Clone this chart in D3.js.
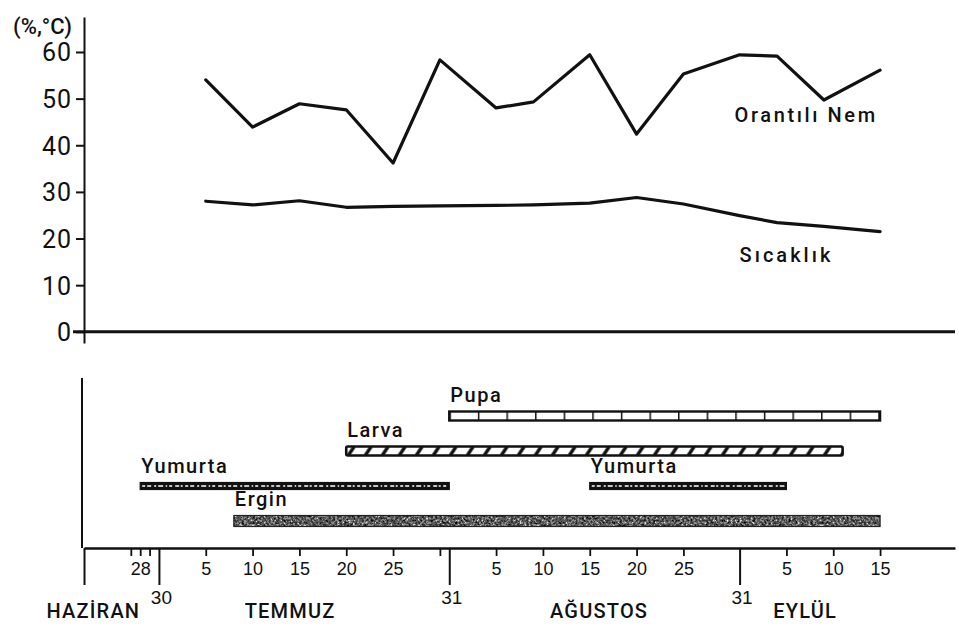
<!DOCTYPE html>
<html>
<head>
<meta charset="utf-8">
<script src="https://cdn.jsdelivr.net/npm/d3@7"></script>
<style>
  html, body { margin: 0; padding: 0; background: #fff; }
  svg { display: block; font-family: Roboto, "DejaVu Sans", sans-serif; }
</style>
</head>
<body>
<svg id="chart" width="959" height="629"></svg>
<script>
// ---------- DATA ----------
const obsDates   = ["07-05","07-10","07-15","07-20","07-25","07-30","08-05","08-09","08-15","08-20","08-25","08-31","09-04","09-09","09-15"];
const humidity   = [54.0, 43.9, 48.9, 47.6, 36.2, 58.3, 48.0, 49.3, 59.4, 42.4, 55.3, 59.4, 59.1, 49.7, 56.1];
const temperature= [28.0, 27.2, 28.1, 26.7, 26.9, 27.0, 27.1, 27.2, 27.6, 28.8, 27.4, 24.9, 23.4, 22.6, 21.5];
const seriesNames = ["Orantılı Nem", "Sıcaklık"];
const yTicks = [0, 10, 20, 30, 40, 50, 60];
const yTitle = "(%,°C)";

const stageRows   = ["Pupa", "Larva", "Yumurta", "Ergin"];
const barStages   = ["Pupa", "Larva", "Yumurta", "Yumurta", "Ergin"];
const barStarts   = ["07-31", "07-20", "06-28", "08-15", "07-08"];
const barEnds     = ["09-15", "09-11", "07-31", "09-05", "09-15"];

const dayTicks      = ["06-27","06-28","06-29","07-05","07-10","07-15","07-20","07-25","07-30","08-05","08-10","08-15","08-20","08-25","09-05","09-10","09-15"];
const dayTickLabels = ["","28","","5","10","15","20","25","","5","10","15","20","25","5","10","15"];
const monthEnds      = ["06-22","06-30","07-31","08-31"];
const monthEndLabels = ["","30","31","31"];
const monthNames     = ["HAZİRAN","TEMMUZ","AĞUSTOS","EYLÜL"];
const monthNameDates = ["06-23","07-14","08-16","09-07"];

// ---------- SETUP ----------
const D = s => new Date(Date.UTC(1985, +s.slice(0, 2) - 1, +s.slice(3)));
const svg = d3.select("#chart");
const ink = "#111";

const x = d3.scaleUtc().domain([D("06-22"), D("09-23")]).range([84, 955]);
const y = d3.scaleLinear().domain([-2.4, 67.5]).range([343, 17]);

// ---------- TOP PANEL ----------
const yAxis = svg.append("g")
  .attr("transform", `translate(${x.range()[0]},0)`)
  .call(d3.axisLeft(y).tickValues(yTicks).tickSize(8).tickSizeOuter(0).tickPadding(4));
yAxis.select(".domain").attr("stroke", ink).attr("stroke-width", 2);
yAxis.selectAll(".tick line").attr("stroke", ink).attr("stroke-width", 2);
yAxis.selectAll(".tick text")
  .attr("fill", ink).attr("font-size", 25).attr("letter-spacing", 1)
  .attr("font-family", "Roboto, sans-serif")
  .attr("dy", "0.36em");

svg.append("text")
  .attr("x", 72).attr("y", 34)
  .attr("text-anchor", "end")
  .attr("font-size", 22).attr("font-weight", 500).attr("fill", ink)
  .text(yTitle);

// zero line
svg.append("line")
  .attr("x1", x.range()[0] - 11).attr("x2", x.range()[1])
  .attr("y1", y(0)).attr("y2", y(0))
  .attr("stroke", ink).attr("stroke-width", 3);

const line = d3.line().x(d => x(D(d.date))).y(d => y(d.v));
const hum = obsDates.map((d, i) => ({date: d, v: humidity[i]}));
const tmp = obsDates.map((d, i) => ({date: d, v: temperature[i]}));

[hum, tmp].forEach(s => {
  svg.append("path").datum(s)
    .attr("d", line)
    .attr("fill", "none").attr("stroke", ink)
    .attr("stroke-width", 3.2).attr("stroke-linejoin", "round").attr("stroke-linecap", "round");
});

svg.append("text")
  .attr("x", x(D("08-31")) - 5).attr("y", y(45))
  .attr("font-size", 20).attr("font-weight", 500).attr("letter-spacing", 2.6).attr("fill", ink)
  .text(seriesNames[0]);
svg.append("text")
  .attr("x", x(D("08-31"))).attr("y", y(15))
  .attr("font-size", 20).attr("font-weight", 500).attr("letter-spacing", 3).attr("fill", ink)
  .text(seriesNames[1]);

// ---------- BOTTOM PANEL ----------
const axisY = 548;
const row = d3.scalePoint().domain(stageRows).range([416, 521]);
const barH = {Pupa: 9, Larva: 9, Yumurta: 7, Ergin: 11};

// left vertical line of the lower panel
svg.append("line")
  .attr("x1", x.range()[0] - 2).attr("x2", x.range()[0] - 2)
  .attr("y1", 378).attr("y2", axisY)
  .attr("stroke", ink).attr("stroke-width", 2);

const defs = svg.append("defs");
const f = defs.append("filter").attr("id", "speckle")
  .attr("x", 0).attr("y", 0).attr("width", 1).attr("height", 1)
  .attr("color-interpolation-filters", "sRGB");
f.append("feTurbulence").attr("type", "fractalNoise").attr("baseFrequency", 0.45)
  .attr("numOctaves", 2).attr("seed", 7).attr("result", "n");
f.append("feColorMatrix").attr("in", "n").attr("type", "matrix")
  .attr("values", "1 0 0 0 0  1 0 0 0 0  1 0 0 0 0  0 0 0 0 1").attr("result", "g");
const ct = f.append("feComponentTransfer").attr("in", "g").attr("result", "c");
["feFuncR", "feFuncG", "feFuncB"].forEach(fn =>
  ct.append(fn).attr("type", "discrete").attr("tableValues", "0 0.05 0.2 0.35 0.55 0.85 1"));
f.append("feComposite").attr("in", "c").attr("in2", "SourceGraphic").attr("operator", "in");

const bars = barStages.map((s, i) => ({stage: s, start: D(barStarts[i]), end: D(barEnds[i])}));

bars.forEach((b, i) => {
  const h = barH[b.stage];
  const x0 = x(b.start), x1 = x(b.end), y0 = row(b.stage) - h / 2;
  const g = svg.append("g");
  if (b.stage === "Pupa") {
    const pid = "pupa" + i;
    const p = defs.append("pattern").attr("id", pid).attr("patternUnits", "userSpaceOnUse")
      .attr("x", x0).attr("y", y0).attr("width", 28.6).attr("height", h);
    p.append("rect").attr("width", 28.6).attr("height", h).attr("fill", "#fff");
    p.append("line").attr("x1", 0.5).attr("x2", 0.5).attr("y1", 0).attr("y2", h)
      .attr("stroke", ink).attr("stroke-width", 2);
    g.append("rect").attr("x", x0).attr("y", y0).attr("width", x1 - x0).attr("height", h)
      .attr("fill", `url(#${pid})`).attr("stroke", ink).attr("stroke-width", 2.4);
  } else if (b.stage === "Larva") {
    const pid = "larva" + i;
    const p = defs.append("pattern").attr("id", pid).attr("patternUnits", "userSpaceOnUse")
      .attr("x", x0).attr("y", y0).attr("width", 17).attr("height", h);
    p.append("rect").attr("width", 17).attr("height", h).attr("fill", "#fff");
    p.append("line").attr("x1", 2).attr("y1", h).attr("x2", 8).attr("y2", 0)
      .attr("stroke", ink).attr("stroke-width", 3.4);
    g.append("rect").attr("x", x0).attr("y", y0).attr("width", x1 - x0).attr("height", h)
      .attr("fill", `url(#${pid})`).attr("stroke", ink).attr("stroke-width", 2.6).attr("rx", 1.5);
  } else if (b.stage === "Yumurta") {
    g.append("rect").attr("x", x0).attr("y", y0).attr("width", x1 - x0).attr("height", h)
      .attr("fill", ink).attr("stroke", ink).attr("stroke-width", 1.2);
    g.append("line").attr("x1", x0 + 2).attr("x2", x1 - 2)
      .attr("y1", y0 + h / 2).attr("y2", y0 + h / 2)
      .attr("stroke", "#fff").attr("stroke-width", 1.6)
      .attr("stroke-dasharray", "3 2 4 3 2 2 5 2.5 1.5 2 3 3 4 1.5 2 2.5");
  } else {
    g.append("rect").attr("x", x0).attr("y", y0).attr("width", x1 - x0).attr("height", h)
      .attr("fill", "#555");
    g.append("rect").attr("x", x0).attr("y", y0).attr("width", x1 - x0).attr("height", h)
      .attr("fill", "#000").attr("filter", "url(#speckle)");
    g.append("rect").attr("x", x0).attr("y", y0).attr("width", x1 - x0).attr("height", h)
      .attr("fill", "none").attr("stroke", "#222").attr("stroke-width", 1.2);
  }
  svg.append("text")
    .attr("x", x0 + 1).attr("y", y0 - 10)
    .attr("font-size", 20).attr("font-weight", 500).attr("letter-spacing", 1.5).attr("fill", ink)
    .text(b.stage);
});

// bottom axis – day ticks
const dayAxis = svg.append("g").attr("transform", `translate(0,${axisY})`)
  .call(d3.axisBottom(x).tickValues(dayTicks.map(D)).tickSize(8).tickSizeOuter(0).tickPadding(6)
    .tickFormat((d, i) => dayTickLabels[i]));
dayAxis.select(".domain").attr("stroke", ink).attr("stroke-width", 2.6);
dayAxis.selectAll(".tick line").attr("stroke", ink).attr("stroke-width", 1.8);
dayAxis.selectAll(".tick text").attr("fill", ink).attr("font-size", 18).attr("font-weight", 500);

// month-end ticks
const endAxis = svg.append("g").attr("transform", `translate(0,${axisY})`)
  .call(d3.axisBottom(x).tickValues(monthEnds.map(D)).tickSize(37).tickSizeOuter(0).tickPadding(6)
    .tickFormat((d, i) => monthEndLabels[i]));
endAxis.select(".domain").remove();
endAxis.selectAll(".tick line").attr("stroke", ink).attr("stroke-width", 2);
endAxis.selectAll(".tick text").attr("fill", ink).attr("font-size", 19).attr("font-weight", 500)
  .attr("dx", 2);

// month names
svg.append("g").selectAll("text").data(monthNames).join("text")
  .attr("x", (d, i) => x(D(monthNameDates[i])))
  .attr("y", 618)
  .attr("text-anchor", "middle")
  .attr("font-size", 20).attr("font-weight", 500).attr("letter-spacing", 1.2).attr("fill", ink)
  .text(d => d);
</script>
</body>
</html>
